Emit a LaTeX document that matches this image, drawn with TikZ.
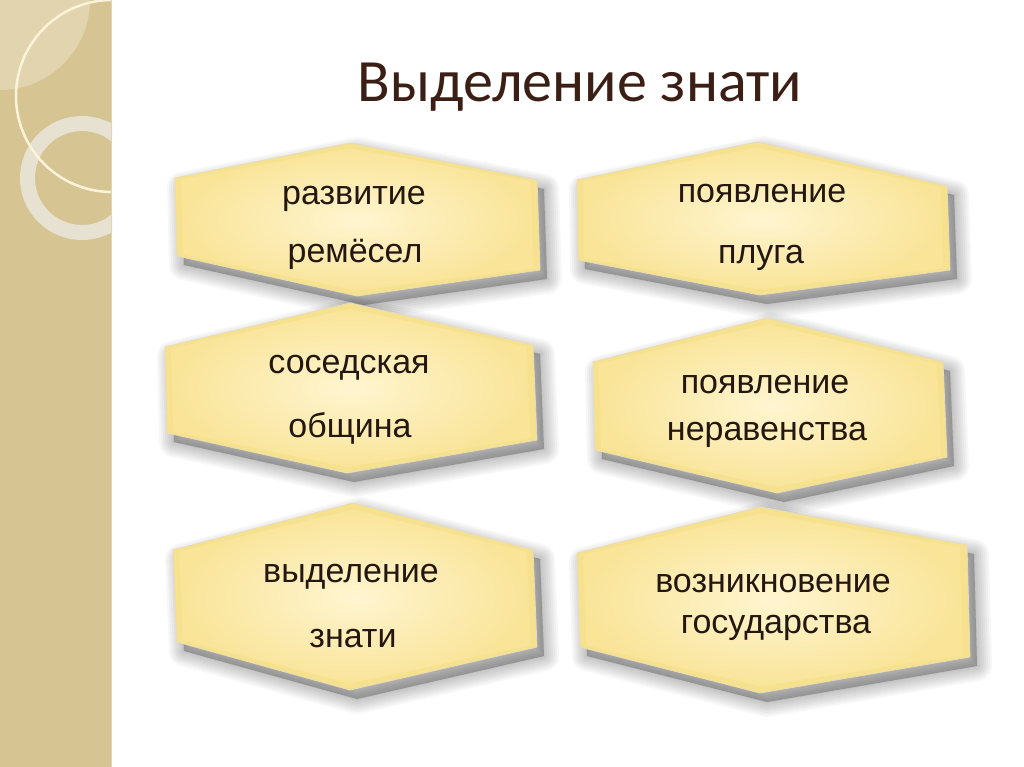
\documentclass[tikz,border=0pt]{standalone}
\usepackage{fontspec}
\setmainfont{Liberation Sans}
\newfontfamily\titlefont{Carlito}
\usetikzlibrary{calc}
\definecolor{band}{HTML}{D7C493}
\definecolor{bandlight}{HTML}{E1D4AE}
\definecolor{ringcol}{HTML}{E7E1D1}
\definecolor{thinring}{HTML}{FBF4DA}
\definecolor{titlecol}{HTML}{3B1F14}
\definecolor{txtcol}{HTML}{231710}
\definecolor{bevel}{HTML}{F6E28E}
\definecolor{edgecol}{HTML}{E8DCB4}
\definecolor{innerc}{HTML}{FFF5D0}
\definecolor{outerc}{HTML}{F9E498}
\tikzset{
  boxbevel/.style={fill=bevel, draw=edgecol, line width=0.8pt, line join=round},
  shadowpass/.style={fill=black, draw=black, line join=round, opacity=0.032, line width=#1},
  boxface/.style={inner color=innerc, outer color=outerc},
  boxtext/.style={anchor=base, text=txtcol, font=\fontsize{34}{40}\selectfont, inner sep=0pt},
}
\newcommand\hexbox[7]{%
  \coordinate (#1c) at ($#3!0.5!#6$);
  \begin{scope}[shift={(7,9)}]
    \foreach \w in {30,26,22,18,14,10,6,2}{
      \path[shadowpass=\w pt] #2 -- #3 -- #4 -- #5 -- #6 -- #7 -- cycle;
    }
  \end{scope}
  \path[boxbevel] #2 -- #3 -- #4 -- #5 -- #6 -- #7 -- cycle;
  \shade[boxface] ($(#1c)!0.965!#2$) -- ($(#1c)!0.93!#3$) -- ($(#1c)!0.965!#4$) --
    ($(#1c)!0.965!#5$) -- ($(#1c)!0.93!#6$) -- ($(#1c)!0.965!#7$) -- cycle;
}
\begin{document}
\begin{tikzpicture}[x=1pt,y=-1pt]
\useasboundingbox (0,0) rectangle (1024,767);
\fill[white] (0,0) rectangle (1024,767);
% left band
\fill[band] (0,0) rectangle (112,767);
\begin{scope}
  \clip (0,0) rectangle (112,767);
  \fill[bandlight] (0,0) circle (90);
  \draw[ringcol, line width=15pt] (82,178) circle (54.5);
  \draw[thinring, line width=2.5pt] (112,96) circle (96);
\end{scope}
\draw[bandlight, line width=1pt] (111,0) -- (111,767);
% title
\node[anchor=base, text=titlecol, inner sep=0pt, font=\titlefont\fontsize{60}{64}\selectfont] (title) at (580,102) {Выделение знати};
% boxes
\hexbox{b1}{(175,178)}{(350,143)}{(537,180)}{(540,270)}{(357,296)}{(177,256)}
\hexbox{b2}{(577,180)}{(757,142)}{(947,186)}{(950,270)}{(760,295)}{(578,260)}
\hexbox{b3}{(165,347)}{(350,303)}{(533,345)}{(537,440)}{(347,473)}{(167,433)}
\hexbox{b4}{(593,362)}{(767,318)}{(943,362)}{(947,457)}{(777,493)}{(595,450)}
\hexbox{b5}{(173,550)}{(353,503)}{(533,550)}{(537,647)}{(350,690)}{(177,642)}
\hexbox{b6}{(577,553)}{(760,507)}{(967,545)}{(970,657)}{(760,693)}{(580,647)}
% texts
\node[boxtext] (t1a) at (354,205) {развитие};
\node[boxtext] (t1b) at (355,262) {ремёсел};
\node[boxtext] (t2a) at (762,203) {появление};
\node[boxtext] (t2b) at (761,263) {плуга};
\node[boxtext] (t3a) at (349,373) {соседская};
\node[boxtext] (t3b) at (350,437) {община};
\node[boxtext] (t4a) at (765,393) {появление};
\node[boxtext] (t4b) at (767,440) {неравенства};
\node[boxtext] (t5a) at (351,582) {выделение};
\node[boxtext] (t5b) at (353,647) {знати};
\node[boxtext] (t6a) at (773,592) {возникновение};
\node[boxtext] (t6b) at (776,633) {государства};
\end{tikzpicture}
\end{document}
